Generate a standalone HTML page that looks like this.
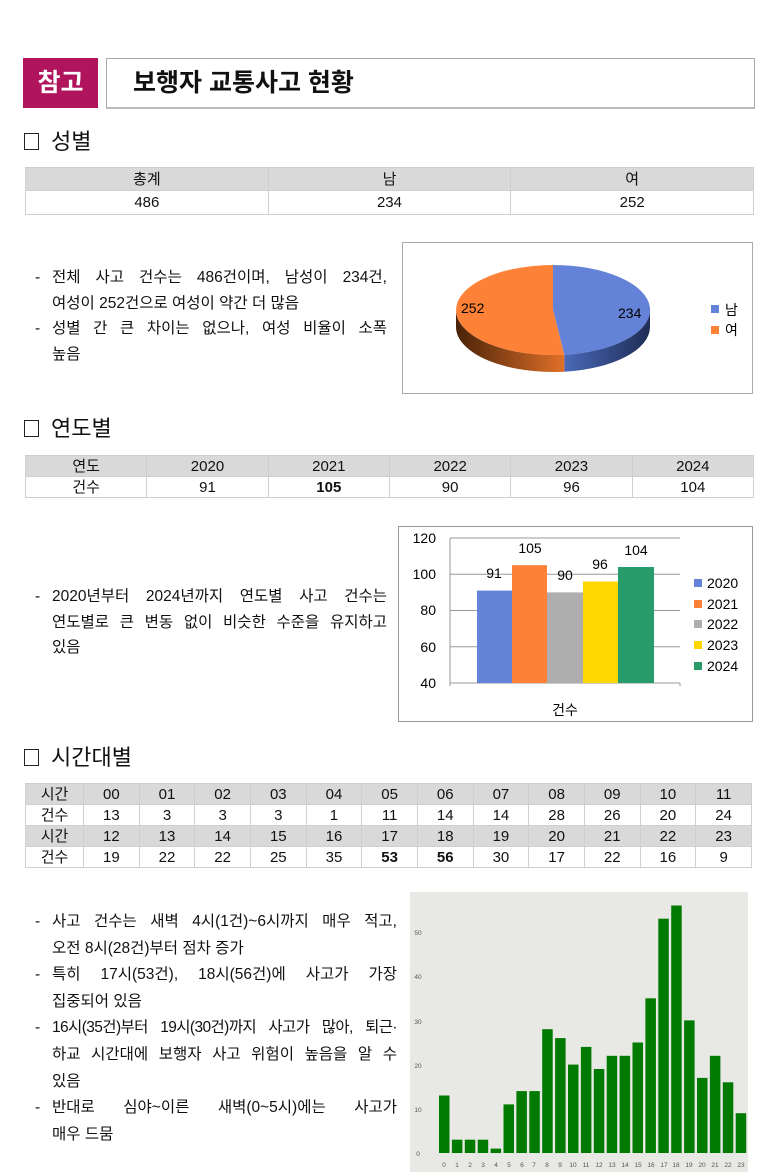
<!DOCTYPE html>
<html><head><meta charset="utf-8"><style>
*{margin:0;padding:0;box-sizing:border-box}
body{width:780px;height:1175px;background:#fff;position:relative;font-family:"Liberation Sans","Noto Sans CJK KR",sans-serif;color:#111;overflow:hidden}
.a{position:absolute}
table{border-collapse:collapse;position:absolute;table-layout:fixed}
td{border:1px solid #cfcfcf;text-align:center;font-size:15px;line-height:19px;padding:0}
.g td{background:#d9d9d9}
.h{font-size:22px;left:24px}
.h span{display:inline-block;width:15px;height:17px;border:1.5px solid #222;margin-right:12px;vertical-align:-1px}
.b{font-size:15.5px;line-height:25.5px;left:33px;width:354px}
.b div{position:relative;padding-left:19px;text-align:justify;text-align-last:justify;white-space:nowrap}
.b div.l{text-align-last:left}
.b div i{position:absolute;left:2px;top:0;font-style:normal}
</style></head><body>
<div class="a" style="left:23px;top:58px;width:75px;height:50px;background:#b0145c;color:#fff;font-size:25px;font-weight:bold;text-align:center;line-height:50px">참고</div>
<div class="a" style="left:106px;top:58px;width:649px;height:51px;border:1px solid #aaa;border-bottom:2px solid #bbb;font-size:25px;font-weight:bold;line-height:48px;padding-left:26px">보행자 교통사고 현황</div>

<div class="a h" style="top:124px"><span></span>성별</div>
<table style="left:25px;top:167px;width:729px"><tr class="g" style="height:23px"><td>총계</td><td>남</td><td>여</td></tr><tr style="height:24px"><td>486</td><td>234</td><td>252</td></tr></table>

<div class="a b" style="top:265px">
<div><i>-</i>전체 사고 건수는 486건이며, 남성이 234건,</div>
<div class="l">여성이 252건으로 여성이 약간 더 많음</div>
<div><i>-</i>성별 간 큰 차이는 없으나, 여성 비율이 소폭</div>
<div class="l">높음</div></div>

<div class="a h" style="top:411px"><span></span>연도별</div>
<table style="left:25px;top:455px;width:729px"><tr class="g" style="height:21px"><td>연도</td><td>2020</td><td>2021</td><td>2022</td><td>2023</td><td>2024</td></tr><tr style="height:21px"><td>건수</td><td>91</td><td><b>105</b></td><td>90</td><td>96</td><td>104</td></tr></table>

<div class="a b" style="top:584px">
<div><i>-</i>2020년부터 2024년까지 연도별 사고 건수는</div>
<div>연도별로 큰 변동 없이 비슷한 수준을 유지하고</div>
<div class="l">있음</div></div>

<div class="a h" style="top:740px"><span></span>시간대별</div>
<table style="left:25px;top:783px;width:727px;font-size:15px">
<colgroup><col style="width:58px"></colgroup>
<tr class="g" style="height:21px"><td>시간</td><td>00</td><td>01</td><td>02</td><td>03</td><td>04</td><td>05</td><td>06</td><td>07</td><td>08</td><td>09</td><td>10</td><td>11</td></tr>
<tr style="height:21px"><td>건수</td><td>13</td><td>3</td><td>3</td><td>3</td><td>1</td><td>11</td><td>14</td><td>14</td><td>28</td><td>26</td><td>20</td><td>24</td></tr>
<tr class="g" style="height:21px"><td>시간</td><td>12</td><td>13</td><td>14</td><td>15</td><td>16</td><td>17</td><td>18</td><td>19</td><td>20</td><td>21</td><td>22</td><td>23</td></tr>
<tr style="height:21px"><td>건수</td><td>19</td><td>22</td><td>22</td><td>25</td><td>35</td><td><b>53</b></td><td><b>56</b></td><td>30</td><td>17</td><td>22</td><td>16</td><td>9</td></tr></table>

<div class="a b" style="top:909px;width:364px;line-height:26.6px">
<div><i>-</i>사고 건수는 새벽 4시(1건)~6시까지 매우 적고,</div>
<div class="l">오전 8시(28건)부터 점차 증가</div>
<div><i>-</i>특히 17시(53건), 18시(56건)에 사고가 가장</div>
<div class="l">집중되어 있음</div>
<div style="letter-spacing:-0.6px"><i>-</i>16시(35건)부터 19시(30건)까지 사고가 많아, 퇴근·</div>
<div>하교 시간대에 보행자 사고 위험이 높음을 알 수</div>
<div class="l">있음</div>
<div><i>-</i>반대로 심야~이른 새벽(0~5시)에는 사고가</div>
<div class="l">매우 드뭄</div></div>

<svg class="a" style="left:0;top:0" width="780" height="1175" font-family="Liberation Sans, Noto Sans CJK KR, sans-serif">
<defs>
<linearGradient id="gb" x1="0" y1="0" x2="1" y2="0"><stop offset="0" stop-color="#4a69b8"/><stop offset="1" stop-color="#1f2d55"/></linearGradient>
<linearGradient id="go" x1="0" y1="0" x2="1" y2="0"><stop offset="0" stop-color="#4a2208"/><stop offset="1" stop-color="#e07028"/></linearGradient>
</defs>
<rect x="402.5" y="242.5" width="350" height="151" fill="#fff" stroke="#aaa"/>
<path d="M650,310 A97,45 0 0 1 564.3,354.7 L564.3,371.7 A97,45 0 0 0 650,327 Z" fill="url(#gb)"/>
<path d="M564.3,354.7 A97,45 0 0 1 456,310 L456,327 A97,45 0 0 0 564.3,371.7 Z" fill="url(#go)"/>
<path d="M553,310 L553,265 A97,45 0 0 1 564.3,354.7 Z" fill="#6382d8"/>
<path d="M553,310 L564.3,354.7 A97,45 0 1 1 553,265 Z" fill="#fd8237"/>
<text x="461" y="313" font-size="14">252</text>
<text x="618" y="318" font-size="14">234</text>
<rect x="711" y="305" width="8" height="8" fill="#6382d8"/><text x="725" y="315" font-size="14">남</text>
<rect x="711" y="326" width="8" height="8" fill="#fd8237"/><text x="725" y="335" font-size="14">여</text>
<rect x="398.5" y="526.5" width="354" height="195" fill="#fff" stroke="#999"/>
<g stroke="#999" stroke-width="1">
<line x1="450" y1="538" x2="680" y2="538"/><line x1="450" y1="574.3" x2="680" y2="574.3"/><line x1="450" y1="610.5" x2="680" y2="610.5"/><line x1="450" y1="646.8" x2="680" y2="646.8"/><line x1="450" y1="683" x2="680" y2="683"/>
<line x1="450" y1="538" x2="450" y2="686"/><line x1="680" y1="683" x2="680" y2="686"/>
</g>
<g font-size="14" text-anchor="end"><text x="436" y="543">120</text><text x="436" y="579">100</text><text x="436" y="615">80</text><text x="436" y="652">60</text><text x="436" y="688">40</text></g>
<rect x="477" y="590.6" width="35" height="92.4" fill="#6382d8"/>
<rect x="512" y="565.2" width="35" height="117.8" fill="#fd8237"/>
<rect x="547" y="592.4" width="36" height="90.6" fill="#aeaeae"/>
<rect x="583" y="581.5" width="35" height="101.5" fill="#fed700"/>
<rect x="618" y="567" width="36" height="116" fill="#289b6b"/>
<g font-size="14" text-anchor="middle"><text x="494" y="578">91</text><text x="530" y="553">105</text><text x="565" y="580">90</text><text x="600" y="569">96</text><text x="636" y="555">104</text><text x="565" y="715">건수</text></g>
<g font-size="14"><rect x="694" y="579" width="8" height="8" fill="#6382d8"/><text x="707" y="588">2020</text>
<rect x="694" y="600" width="8" height="8" fill="#fd8237"/><text x="707" y="609">2021</text>
<rect x="694" y="620" width="8" height="8" fill="#aeaeae"/><text x="707" y="629">2022</text>
<rect x="694" y="641" width="8" height="8" fill="#fed700"/><text x="707" y="650">2023</text>
<rect x="694" y="662" width="8" height="8" fill="#289b6b"/><text x="707" y="671">2024</text></g>
<rect x="410" y="892" width="338" height="280" fill="#e8e8e4"/>
<g fill="#007a00">
<rect x="439" y="1095.5" width="10.5" height="57.5"/><rect x="451.9" y="1139.7" width="10.5" height="13.3"/><rect x="464.8" y="1139.7" width="10.5" height="13.3"/><rect x="477.7" y="1139.7" width="10.5" height="13.3"/><rect x="490.6" y="1148.6" width="10.5" height="4.4"/><rect x="503.5" y="1104.4" width="10.5" height="48.6"/><rect x="516.4" y="1091.1" width="10.5" height="61.9"/><rect x="529.3" y="1091.1" width="10.5" height="61.9"/><rect x="542.2" y="1029.2" width="10.5" height="123.8"/><rect x="555.1" y="1038.1" width="10.5" height="114.9"/><rect x="568" y="1064.6" width="10.5" height="88.4"/><rect x="580.9" y="1046.9" width="10.5" height="106.1"/><rect x="593.8" y="1069" width="10.5" height="84"/><rect x="606.7" y="1055.8" width="10.5" height="97.2"/><rect x="619.6" y="1055.8" width="10.5" height="97.2"/><rect x="632.5" y="1042.5" width="10.5" height="110.5"/><rect x="645.4" y="998.3" width="10.5" height="154.7"/><rect x="658.3" y="918.7" width="10.5" height="234.3"/><rect x="671.2" y="905.5" width="10.5" height="247.5"/><rect x="684.1" y="1020.4" width="10.5" height="132.6"/><rect x="697" y="1077.9" width="10.5" height="75.1"/><rect x="709.9" y="1055.8" width="10.5" height="97.2"/><rect x="722.8" y="1082.3" width="10.5" height="70.7"/><rect x="735.7" y="1113.2" width="10.5" height="39.8"/>
</g>
<g font-size="6.5" fill="#555" text-anchor="middle">
<text x="418" y="1156">0</text><text x="418" y="1112">10</text><text x="418" y="1068">20</text><text x="418" y="1024">30</text><text x="418" y="979">40</text><text x="418" y="935">50</text>
<text x="444" y="1167">0</text><text x="457" y="1167">1</text><text x="470" y="1167">2</text><text x="483" y="1167">3</text><text x="496" y="1167">4</text><text x="509" y="1167">5</text><text x="522" y="1167">6</text><text x="534" y="1167">7</text><text x="547" y="1167">8</text><text x="560" y="1167">9</text><text x="573" y="1167">10</text><text x="586" y="1167">11</text><text x="599" y="1167">12</text><text x="612" y="1167">13</text><text x="625" y="1167">14</text><text x="638" y="1167">15</text><text x="651" y="1167">16</text><text x="664" y="1167">17</text><text x="676" y="1167">18</text><text x="689" y="1167">19</text><text x="702" y="1167">20</text><text x="715" y="1167">21</text><text x="728" y="1167">22</text><text x="741" y="1167">23</text>
</g>
</svg>
</body></html>
